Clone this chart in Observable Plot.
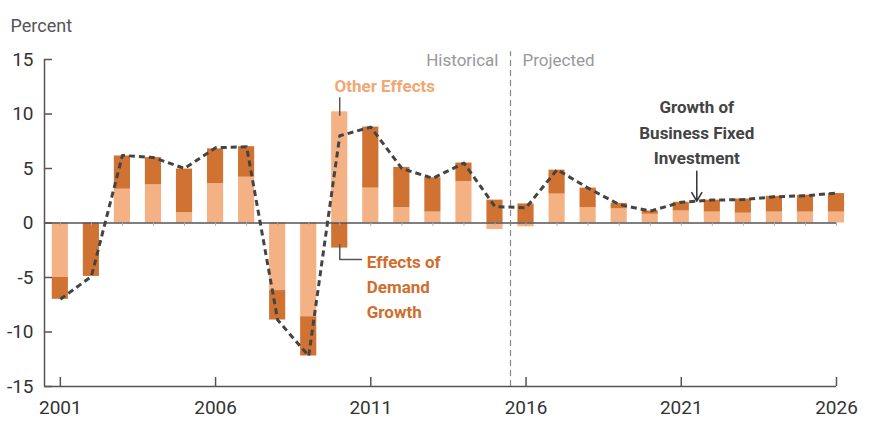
<!DOCTYPE html>
<html><head><meta charset="utf-8">
<script src="https://cdn.jsdelivr.net/npm/d3@7"></script>
<script src="https://cdn.jsdelivr.net/npm/@observablehq/plot@0.6"></script>
<style>
html,body{margin:0;padding:0;background:#fff;}
#chart{width:870px;height:428px;}
</style>
</head><body><div id="chart"></div>
<script>
const years = [2001,2002,2003,2004,2005,2006,2007,2008,2009,2010,2011,2012,2013,2014,2015,2016,2017,2018,2019,2020,2021,2022,2023,2024,2025,2026];
const otherEffects = [-5.0,0,3.1,3.5,0.95,3.6,4.2,-6.2,-8.6,10.2,3.2,1.4,1.0,3.8,-0.6,-0.35,2.65,1.4,1.3,0.8,1.1,1.0,0.9,1.0,1.0,1.0];
const demandEffects = [-2.0,-4.9,3.05,2.5,4.0,3.2,2.8,-2.7,-3.6,-2.3,5.6,3.7,3.15,1.7,2.1,1.75,2.2,1.8,0.5,0.3,0.8,1.1,1.3,1.45,1.55,1.7];
const investmentGrowth = [-7.0,-4.9,6.2,6.0,5.0,6.9,7.0,-8.9,-12.2,8.0,8.8,5.0,4.1,5.5,1.5,1.4,4.9,3.2,1.7,1.1,1.9,2.1,2.15,2.4,2.5,2.75];
const yTicks = [-15,-10,-5,0,5,10,15];
const xTicks = [2001,2006,2011,2016,2021,2026];
const seriesNames = ["Other Effects","Effects of Demand Growth"];
const seriesColors = ["#F4B183","#D07231"];
const dividerYear = 2015.5;

const W = 870, H = 428;
const mL = 44, mR = 34, mT = 59, mB = 42;
const xDomain = [2000.49, 2026];
const barHalf = 0.26;
const innerW = W - mL - mR, innerH = H - mT - mB;

const barRows = years.flatMap((year, i) => [
  {year, series: seriesNames[0], value: otherEffects[i]},
  {year, series: seriesNames[1], value: demandEffects[i]}
]);
const lineRows = years.map((year, i) => ({year, growth: investmentGrowth[i]}));

const axisColor = "#555";
const font = "Roboto, 'Liberation Sans', sans-serif";

const chart = Plot.plot({
  width: W, height: H,
  marginLeft: mL, marginRight: mR, marginTop: mT, marginBottom: mB,
  style: {fontFamily: font, background: "#fff", color: "#333"},
  x: {domain: xDomain, axis: null},
  y: {domain: [-15, 15], axis: null},
  color: {domain: seriesNames, range: seriesColors},
  marks: [
    Plot.rectY(barRows, Plot.stackY({x: "year", x1: d => d.year - barHalf, x2: d => d.year + barHalf, y: "value", fill: "series"})),
    Plot.ruleY([0], {stroke: axisColor, strokeWidth: 1.5}),
    Plot.ruleX(years, {x: d => d, y1: 0, y2: -0.3, stroke: "#aaa", strokeWidth: 1}),
    Plot.ruleX([dividerYear], {y1: -15, y2: 15.7, stroke: "#888", strokeWidth: 1.2, strokeDasharray: "6,4"}),
    Plot.line(lineRows, {x: "year", y: "growth", stroke: "#444", strokeWidth: 3, strokeDasharray: "6,4", strokeLinecap: "butt", strokeLinejoin: "round", curve: "linear"}),
    // axes
    Plot.ruleY([-15], {stroke: axisColor, strokeWidth: 1.5}),
    Plot.ruleX([xDomain[0]], {stroke: axisColor, strokeWidth: 1.5}),
    Plot.tickY(yTicks, {y: d => d, insetRight: innerW - 8, stroke: axisColor, strokeWidth: 1.5}),
    Plot.tickX(xTicks, {x: d => d, insetTop: innerH - 9, stroke: axisColor, strokeWidth: 1.5}),
    Plot.axisY({ticks: yTicks, tickSize: 0, tickPadding: 11, fontSize: 19, tickFormat: d => String(d), label: null, fill: "#333"}),
    Plot.axisX({ticks: xTicks, tickSize: 0, tickPadding: 14, fontSize: 19, tickFormat: d => String(d), label: null, fill: "#333"}),
    Plot.text(["Percent"], {frameAnchor: "top-left", textAnchor: "start", dx: -34, dy: -40, fontSize: 18, fill: "#555"}),
    // period labels
    Plot.text([{x: dividerYear, y: 14.93, t: "Historical"}], {x: "x", y: "y", text: "t", textAnchor: "end", dx: -12, fill: "#999", fontSize: 17}),
    Plot.text([{x: dividerYear, y: 14.93, t: "Projected"}], {x: "x", y: "y", text: "t", textAnchor: "start", dx: 12, fill: "#999", fontSize: 17}),
    // annotations
    Plot.text([{x: 2010, y: 12.5, t: "Other Effects"}], {x: "x", y: "y", text: "t", dx: 45, fill: "#F2A774", fontWeight: "bold", fontSize: 17}),
    Plot.ruleX([{x: 2010, y1: 9.8, y2: 11.5}], {x: "x", y1: "y1", y2: "y2", stroke: "#444", strokeWidth: 1.3}),
    Plot.line([{x: 2010, y: -2.0}, {x: 2010, y: -3.35}, {x: 2010.7, y: -3.35}], {x: "x", y: "y", stroke: "#555", strokeWidth: 1.5}),
    Plot.text([{x: 2010, y: -5.72, t: "Effects of\nDemand\nGrowth"}], {x: "x", y: "y", text: "t", dx: 27, textAnchor: "start", lineHeight: 1.47, fill: "#D06E2D", fontWeight: "bold", fontSize: 17}),
    Plot.text([{x: 2021.5, y: 8.5, t: "Growth of\nBusiness Fixed\nInvestment"}], {x: "x", y: "y", text: "t", textAnchor: "middle", lineHeight: 1.52, fill: "#444", fontWeight: "bold", fontSize: 17}),
    Plot.arrow([{x1: 2021.5, y1: 4.75, x2: 2021.5, y2: 2.0}], {x1: "x1", y1: "y1", x2: "x2", y2: "y2", stroke: "#333", strokeWidth: 1.5, headLength: 10})
  ]
});
document.getElementById("chart").appendChild(chart);
</script>
</body></html>
